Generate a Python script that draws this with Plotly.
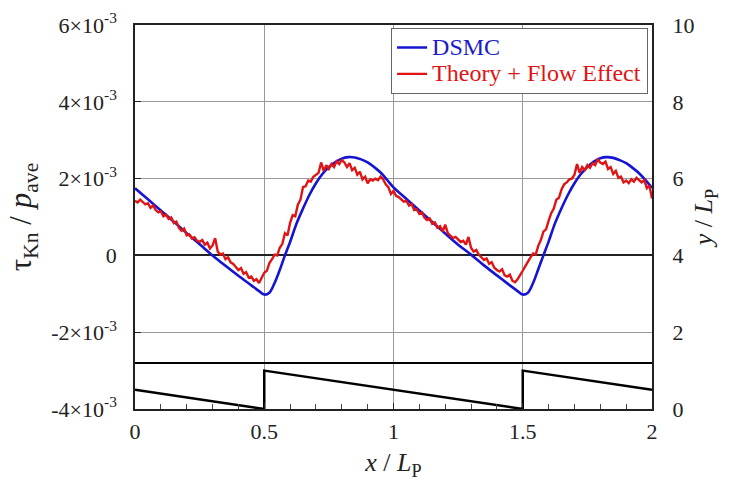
import plotly.graph_objects as go

# DSMC (units of 1e-3)
dsmc_x = [0.00, 0.05, 0.10, 0.15, 0.20, 0.25, 0.30, 0.35, 0.40, 0.45, 0.48, 0.50, 0.52, 0.54, 0.56, 0.58,
          0.60, 0.625, 0.65, 0.675, 0.70, 0.725, 0.75, 0.775, 0.80, 0.825, 0.85, 0.875, 0.90, 0.925, 0.95, 0.975,
          1.00, 1.05, 1.10, 1.15, 1.20, 1.25, 1.30, 1.35, 1.40, 1.45, 1.48, 1.50, 1.52, 1.54, 1.56, 1.58,
          1.60, 1.625, 1.65, 1.675, 1.70, 1.725, 1.75, 1.775, 1.80, 1.825, 1.85, 1.875, 1.90, 1.925, 1.95, 1.975, 2.00]
dsmc_y = [1.75, 1.46, 1.17, 0.88, 0.58, 0.29, 0.00, -0.27, -0.53, -0.78, -0.93, -1.02, -0.97, -0.72, -0.38, 0.00,
          0.35, 0.83, 1.22, 1.58, 1.88, 2.12, 2.30, 2.43, 2.52, 2.56, 2.55, 2.50, 2.42, 2.30, 2.16, 1.97,
          1.77, 1.47, 1.17, 0.87, 0.57, 0.28, 0.02, -0.26, -0.52, -0.78, -0.93, -1.02, -0.97, -0.72, -0.36, 0.00,
          0.36, 0.84, 1.23, 1.58, 1.88, 2.12, 2.30, 2.44, 2.53, 2.56, 2.54, 2.48, 2.40, 2.28, 2.14, 1.96, 1.76]

# Theory + Flow Effect (units of 1e-3), sampled every 0.01
theory_x = [round(i * 0.01, 2) for i in range(201)]
theory_y = [
    1.42, 1.38, 1.45, 1.40, 1.33, 1.36, 1.24, 1.30, 1.18, 1.12,
    1.15, 1.02, 1.06, 0.95, 0.99, 0.84, 0.88, 0.72, 0.64, 0.70,
    0.52, 0.55, 0.44, 0.47, 0.38, 0.35, 0.40, 0.28, 0.33, 0.18,
    0.26, 0.45, 0.10, 0.02, 0.05, -0.10, -0.05, -0.18, -0.22, -0.30,
    -0.38, -0.33, -0.48, -0.44, -0.58, -0.55, -0.66, -0.62, -0.72, -0.58,
    -0.45, -0.40, -0.20, -0.10, 0.02, 0.00, 0.20, 0.30, 0.58, 0.52,
    0.85, 1.05, 1.02, 1.32, 1.45, 1.78, 1.80, 1.95, 1.92, 2.05,
    2.10, 2.15, 2.42, 2.20, 2.35, 2.25, 2.38, 2.30, 2.45, 2.38,
    2.48, 2.42, 2.30, 2.40, 2.22, 2.28, 2.10, 2.18, 1.98, 2.05,
    1.88, 1.98, 1.95, 2.00, 1.96, 2.05, 1.98, 1.85, 1.78, 1.60,
    1.68,
    1.55, 1.52, 1.45, 1.40, 1.42, 1.30, 1.34, 1.18, 1.20, 1.08,
    1.12, 0.98, 0.92, 0.96, 0.82, 0.86, 0.72, 0.76, 0.62, 0.80,
    0.58, 0.50, 0.45, 0.48, 0.40, 0.35, 0.38, 0.28, 0.48, 0.20,
    0.10, 0.14, 0.02, -0.06, -0.12, -0.08, -0.22, -0.18, -0.32, -0.38,
    -0.42, -0.36, -0.52, -0.55, -0.50, -0.66, -0.70, -0.62, -0.52, -0.40,
    -0.28, -0.15, -0.05, 0.05, 0.02, 0.25, 0.40, 0.62, 0.68, 0.90,
    1.10, 1.22, 1.45, 1.50, 1.72, 1.85, 1.90, 1.98, 2.00, 2.10,
    2.38, 2.15, 2.30, 2.22, 2.35, 2.28, 2.40, 2.35, 2.50, 2.42,
    2.38, 2.44, 2.25, 2.30, 2.12, 2.20, 2.02, 2.05, 1.90, 1.95,
    1.88, 1.98, 1.92, 2.02, 1.95, 1.90, 1.96, 1.75, 1.82, 1.48,
]

# Wall geometry (right axis, y / L_P)
wall_x = [0, 2]
wall_y = [1.2, 1.2]
saw_x = [0, 0.5, 0.5, 1.5, 1.5, 2]
saw_y = [0.5, 0, 1, 0, 1, 0.5]

left_tickvals = [-4, -2, 0, 2, 4, 6]
left_ticktext = ["-4×10<sup>-3</sup>", "-2×10<sup>-3</sup>", "0",
                 "2×10<sup>-3</sup>", "4×10<sup>-3</sup>", "6×10<sup>-3</sup>"]
right_tickvals = [0, 2, 4, 6, 8, 10]
x_tickvals = [0, 0.5, 1, 1.5, 2]
x_ticktext = ["0", "0.5", "1", "1.5", "2"]

FONT = "Liberation Serif, Times New Roman, serif"

fig = go.Figure()
fig.add_trace(go.Scatter(x=wall_x, y=wall_y, yaxis="y2", mode="lines",
                         line=dict(color="black", width=2), showlegend=False, hoverinfo="skip"))
fig.add_trace(go.Scatter(x=saw_x, y=saw_y, yaxis="y2", mode="lines",
                         line=dict(color="black", width=2.5), showlegend=False, hoverinfo="skip"))
fig.add_trace(go.Scatter(x=dsmc_x, y=dsmc_y, mode="lines", line=dict(color="#1414d2", width=2.6, shape="spline"),
                         name="<span style='color:#1c1cc8;font-size:24px'>DSMC</span>"))
fig.add_trace(go.Scatter(x=theory_x, y=theory_y, mode="lines", line=dict(color="#e01414", width=2.4),
                         name="<span style='color:#e01414;font-size:24px'>Theory + Flow Effect</span>"))

fig.update_layout(
    width=731, height=484,
    margin=dict(l=135, r=79, t=25, b=75, autoexpand=False),
    paper_bgcolor="white", plot_bgcolor="white",
    font=dict(family=FONT, size=22, color="#222"),
    xaxis=dict(range=[0, 2], tickvals=x_tickvals, ticktext=x_ticktext,
               showgrid=True, gridcolor="#999", gridwidth=1.2,
               showline=True, linecolor="#222", linewidth=1.5, mirror=True,
               ticks="inside", ticklen=6, tickcolor="#222",
               minor=dict(dtick=0.1, ticks="inside", ticklen=5, tickcolor="#444", showgrid=False),
               zeroline=False, ticklabelstandoff=2,
               title=dict(text="<i>x</i> / <i>L</i><sub>P</sub>", font=dict(size=26), standoff=10)),
    yaxis=dict(range=[-4, 6], tickvals=left_tickvals, ticktext=left_ticktext,
               showgrid=True, gridcolor="#999", gridwidth=1.2,
               zeroline=True, zerolinecolor="#222", zerolinewidth=2,
               showline=True, linecolor="#222", linewidth=1.5, mirror=True,
               ticks="inside", ticklen=6, tickcolor="#222", ticklabelstandoff=12,
               title=dict(text="τ<sub>Kn</sub> / <i>p</i><sub>ave</sub>", font=dict(size=31), standoff=10)),
    yaxis2=dict(range=[0, 10], tickvals=right_tickvals, overlaying="y", side="right",
                showgrid=False, zeroline=False, showline=False,
                ticks="outside", ticklen=0, ticklabelstandoff=15,
                title=dict(text="<i>y</i> / <i>L</i><sub>P</sub>", font=dict(size=26), standoff=0)),
    legend=dict(x=0.992, y=0.992, xanchor="right", yanchor="top",
                bgcolor="white", bordercolor="#666", borderwidth=1.2,
                font=dict(size=18), tracegroupgap=0, itemwidth=30),
    showlegend=True,
)

fig.write_html("out.html", config={"displayModeBar": False},
               post_script="document.body.style.margin='0';")
